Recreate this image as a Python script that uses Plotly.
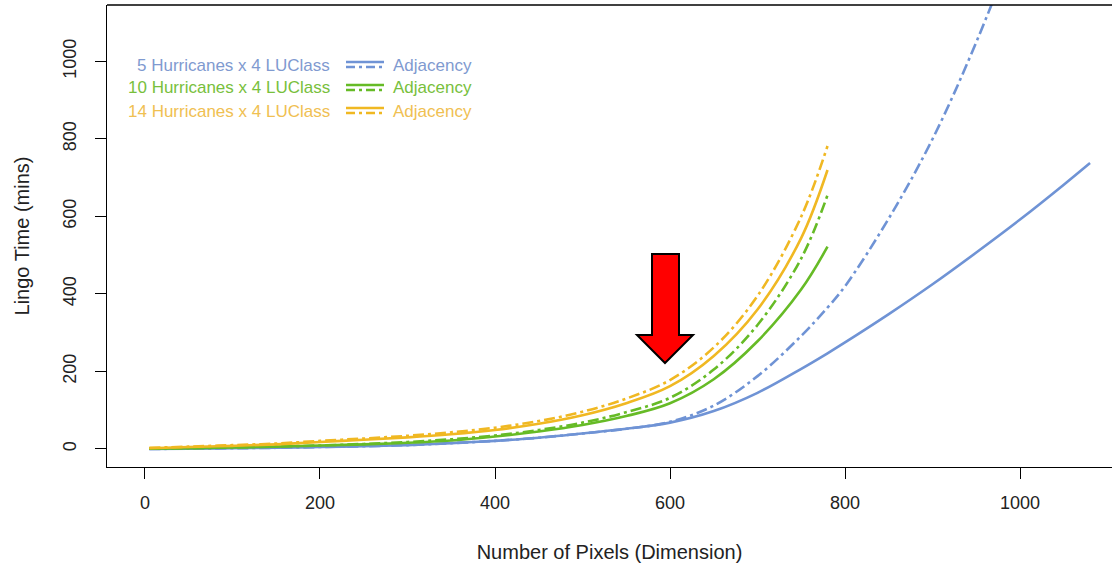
import plotly.graph_objects as go

# ---------------- data ----------------
x_short = [5, 50, 100, 150, 200, 250, 300, 350, 400, 450, 500, 550, 600, 650, 700, 750, 780]
x_long = x_short + [800, 850, 900, 950, 1000, 1050, 1080]

blue_solid = [0, 1, 2, 3, 5, 7, 10, 15, 21, 29, 40, 52, 68, 98, 145, 207, 247,
              275, 348, 425, 507, 592, 682, 738]
blue_dash = [0, 1, 2, 3, 5, 7, 10, 15, 21, 29, 40, 52, 70, 112, 188, 292, 365,
             420, 595, 800, 1050, 1340, 1670, 1886]
green_solid = [1, 2, 4, 6, 9, 12, 16, 22, 32, 45, 62, 85, 118, 180, 278, 412, 522]
green_dash = [1, 2, 4, 6, 9, 13, 18, 25, 35, 49, 68, 95, 132, 205, 320, 492, 655]
yellow_solid = [2, 5, 8, 12, 18, 24, 30, 38, 49, 65, 87, 118, 162, 240, 360, 545, 720]
yellow_dash = [3, 6, 10, 14, 21, 27, 34, 43, 55, 72, 96, 130, 178, 262, 395, 600, 782]

legend_labels = ["5 Hurricanes x 4 LUClass", "10 Hurricanes x 4 LUClass", "14 Hurricanes x 4 LUClass"]
legend_right = "Adjacency"
x_title = "Number of Pixels (Dimension)"
y_title = "Lingo Time (mins)"
x_ticks = [0, 200, 400, 600, 800, 1000]
y_ticks = [0, 200, 400, 600, 800, 1000]

BLUE = "#6f93d5"
GREEN = "#66bb26"
YELLOW = "#f0b822"
BLUE_T = "#7f9ad0"
GREEN_T = "#78c03c"
YELLOW_T = "#f0c052"
DASH = "11px,4px,3px,4px"

# ---------------- layout geometry ----------------
W, H = 1112, 567
ML, MR, MT, MB = 107, 0, 5, 100
PW, PH = W - ML - MR, H - MT - MB


def px(x):
    return (x - ML) / PW


def py(y):
    return (H - MB - y) / PH


fig = go.Figure()

series = [
    (x_long, blue_solid, BLUE, "solid"),
    (x_long, blue_dash, BLUE, DASH),
    (x_short, green_solid, GREEN, "solid"),
    (x_short, green_dash, GREEN, DASH),
    (x_short, yellow_solid, YELLOW, "solid"),
    (x_short, yellow_dash, YELLOW, DASH),
]
for xs, ys, col, dash in series:
    fig.add_trace(go.Scatter(x=xs, y=ys, mode="lines",
                             line=dict(color=col, width=2.6, dash=dash, shape="spline", smoothing=1.0),
                             showlegend=False, hoverinfo="skip"))

shapes = []
# top frame line
shapes.append(dict(type="line", xref="paper", yref="paper", x0=0, x1=1, y0=1, y1=1, line=dict(color="black", width=1.3)))

# legend samples
rows = [(65, BLUE, BLUE_T), (88, GREEN, GREEN_T), (111, YELLOW, YELLOW_T)]
annotations = []
for (yc, col, tcol), lab in zip(rows, legend_labels):
    shapes.append(dict(type="line", xref="paper", yref="paper", x0=px(346), x1=px(384), y0=py(yc - 3), y1=py(yc - 3),
                       line=dict(color=col, width=2.4)))
    shapes.append(dict(type="line", xref="paper", yref="paper", x0=px(346), x1=px(384), y0=py(yc + 2), y1=py(yc + 2),
                       line=dict(color=col, width=2.4, dash="9px,4px,3px,4px")))
    annotations.append(dict(xref="paper", yref="paper", x=px(332), y=py(yc), text=lab, showarrow=False,
                            xanchor="right", yanchor="middle", font=dict(size=17, color=tcol, family="Liberation Sans, Arial")))
    annotations.append(dict(xref="paper", yref="paper", x=px(391), y=py(yc), text=legend_right, showarrow=False,
                            xanchor="left", yanchor="middle", font=dict(size=17, color=tcol, family="Liberation Sans, Arial")))

# red arrow
arrow_pts = [(652, 254), (679, 254), (679, 335), (693, 335), (665, 363), (637, 335), (652, 335)]
path = "M " + " L ".join(f"{px(a):.5f},{py(b):.5f}" for a, b in arrow_pts) + " Z"
shapes.append(dict(type="path", xref="paper", yref="paper", path=path, fillcolor="#ff0000",
                   line=dict(color="black", width=2)))

fig.update_layout(
    width=W, height=H,
    margin=dict(l=ML, r=MR, t=MT, b=MB),
    paper_bgcolor="white", plot_bgcolor="white",
    font=dict(family="Liberation Sans, Arial", color="#222"),
    shapes=shapes, annotations=annotations,
    xaxis=dict(range=[-43.4, 1105.1], tickvals=x_ticks, ticks="outside", ticklen=11, tickwidth=1.2, tickcolor="black",
               showline=True, linecolor="black", linewidth=1.3, showgrid=False, zeroline=False,
               tickfont=dict(size=18, color="#222"), ticklabelstandoff=8,
               title=dict(text=x_title, font=dict(size=20, color="#222"), standoff=33)),
    yaxis=dict(range=[-46.5, 1145.8], tickvals=y_ticks, ticks="outside", ticklen=11, tickwidth=1.2, tickcolor="black",
               showline=True, linecolor="black", linewidth=1.3, showgrid=False, zeroline=False,
               tickangle=-90, tickfont=dict(size=18, color="#222"), ticklabelstandoff=12,
               title=dict(text=y_title, font=dict(size=20, color="#222"), standoff=24)),
)

fig.write_html("out.html")
